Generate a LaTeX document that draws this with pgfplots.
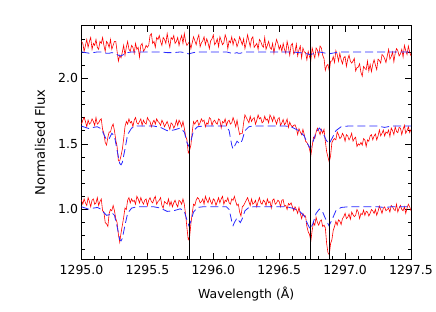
\documentclass[border=0pt]{standalone}
\usepackage{fontspec}
\setmainfont{DejaVu Sans}
\usepackage{pgfplots}
\usepackage{pgfplotstable}
\pgfplotsset{compat=1.18}

\definecolor{specred}{RGB}{255,0,0}
\definecolor{modblue}{RGB}{40,40,255}

% x = wavelength - 1295 (Angstrom); b, m, t = bottom, middle, top spectra
\pgfplotstableread{
x b m t
0.00 1.07 1.65 2.28
0.01 1.04 1.68 2.265
0.02 1.08 1.70 2.205
0.03 1.05 1.67 2.25
0.04 1.03 1.63 2.295
0.05 1.09 1.68 2.235
0.06 1.06 1.65 2.28
0.07 1.02 1.66 2.31
0.08 1.07 1.69 2.22
0.09 1.08 1.67 2.265
0.10 1.04 1.64 2.25
0.11 1.05 1.70 2.295
0.12 1.09 1.65 2.235
0.13 1.03 1.66 2.22
0.14 1.06 1.68 2.28
0.15 1.08 1.69 2.265
0.16 0.99 1.61 2.31
0.17 0.98 1.58 2.25
0.18 0.90 1.51 2.205
0.19 0.89 1.49 2.28
0.20 0.87 1.55 2.265
0.21 0.97 1.59 2.235
0.22 1.00 1.59 2.295
0.23 0.99 1.63 2.22
0.24 1.03 1.65 2.25
0.25 0.99 1.60 2.28
0.26 0.93 1.53 2.28
0.27 0.90 1.48 2.205
0.28 0.81 1.37 2.13
0.29 0.75 1.37 2.175
0.30 0.82 1.41 2.155
0.31 0.88 1.46 2.20
0.32 0.94 1.54 2.25
0.33 1.01 1.63 2.175
0.34 1.00 1.67 2.235
0.35 1.07 1.65 2.28
0.36 1.09 1.69 2.22
0.37 1.05 1.66 2.205
0.38 1.08 1.67 2.25
0.39 1.06 1.63 2.235
0.40 1.07 1.68 2.19
0.41 1.04 1.70 2.265
0.42 1.10 1.66 2.22
0.43 1.08 1.65 2.235
0.44 1.05 1.67 2.16
0.45 1.09 1.69 2.25
0.46 1.06 1.64 2.265
0.47 1.04 1.68 2.205
0.48 1.07 1.66 2.22
0.49 1.08 1.65 2.25
0.50 1.03 1.70 2.235
0.51 1.07 1.68 2.25
0.52 1.09 1.67 2.325
0.53 1.06 1.63 2.34
0.54 1.05 1.66 2.265
0.55 1.08 1.68 2.28
0.56 1.10 1.65 2.235
0.57 1.04 1.69 2.31
0.58 1.06 1.67 2.295
0.59 1.07 1.66 2.325
0.60 1.09 1.64 2.28
0.61 1.03 1.68 2.25
0.62 1.01 1.66 2.31
0.63 1.06 1.63 2.295
0.64 1.05 1.65 2.265
0.65 1.04 1.67 2.34
0.66 1.08 1.64 2.28
0.67 1.03 1.61 2.235
0.68 1.06 1.66 2.31
0.69 1.02 1.65 2.295
0.70 1.05 1.62 2.325
0.71 1.07 1.64 2.265
0.72 1.04 1.68 2.28
0.73 1.02 1.64 2.31
0.74 1.07 1.68 2.25
0.75 1.06 1.66 2.295
0.76 1.04 1.63 2.325
0.77 1.08 1.67 2.265
0.78 1.04 1.62 2.34
0.79 0.96 1.56 2.28
0.80 0.86 1.53 2.25
0.81 0.77 1.43 2.265
0.82 0.79 1.45 2.28
0.83 0.89 1.49 2.225
0.84 0.97 1.59 2.27
0.85 1.04 1.67 2.315
0.86 1.03 1.65 2.285
0.87 1.07 1.67 2.255
0.88 1.09 1.68 2.30
0.89 1.08 1.64 2.33
0.90 1.05 1.66 2.24
0.91 1.06 1.69 2.27
0.92 1.08 1.67 2.285
0.93 1.04 1.68 2.315
0.94 1.10 1.63 2.255
0.95 1.07 1.66 2.30
0.96 1.05 1.65 2.27
0.97 1.09 1.70 2.225
0.98 1.06 1.69 2.285
0.99 1.04 1.64 2.30
1.00 1.08 1.67 2.33
1.01 1.07 1.68 2.255
1.02 1.03 1.66 2.27
1.03 1.06 1.65 2.30
1.04 1.09 1.69 2.24
1.05 1.05 1.68 2.315
1.06 1.08 1.62 2.285
1.07 1.10 1.67 2.255
1.08 1.04 1.66 2.27
1.09 1.07 1.69 2.33
1.10 1.06 1.64 2.30
1.11 1.09 1.67 2.225
1.12 1.05 1.68 2.285
1.13 1.04 1.65 2.27
1.14 1.08 1.66 2.315
1.15 1.07 1.70 2.255
1.16 1.10 1.67 2.30
1.17 1.06 1.63 2.285
1.18 1.03 1.68 2.24
1.19 1.04 1.62 2.27
1.20 0.98 1.57 2.315
1.21 0.95 1.58 2.285
1.22 1.02 1.58 2.255
1.23 1.03 1.66 2.30
1.24 1.05 1.72 2.225
1.25 1.07 1.70 2.27
1.26 1.09 1.68 2.33
1.27 1.06 1.66 2.285
1.28 1.03 1.71 2.24
1.29 1.08 1.67 2.30
1.30 1.04 1.69 2.315
1.31 1.05 1.70 2.235
1.32 1.07 1.65 2.25
1.33 1.02 1.68 2.265
1.34 1.06 1.72 2.22
1.35 1.09 1.69 2.295
1.36 1.05 1.70 2.28
1.37 1.04 1.66 2.25
1.38 1.07 1.67 2.235
1.39 1.06 1.71 2.31
1.40 1.03 1.68 2.22
1.41 1.08 1.69 2.25
1.42 1.05 1.66 2.28
1.43 1.06 1.72 2.235
1.44 1.01 1.70 2.22
1.45 1.07 1.67 2.265
1.46 1.08 1.71 2.19
1.47 1.04 1.68 2.25
1.48 1.05 1.65 2.295
1.49 1.07 1.69 2.265
1.50 1.06 1.70 2.22
1.51 1.02 1.64 2.25
1.52 1.07 1.66 2.205
1.53 1.075 1.685 2.265
1.54 1.025 1.645 2.22
1.55 1.03 1.66 2.19
1.56 1.00 1.69 2.28
1.57 1.045 1.625 2.235
1.58 1.035 1.665 2.175
1.59 1.05 1.64 2.25
1.60 1.02 1.63 2.265
1.61 0.99 1.64 2.185
1.62 1.02 1.645 2.20
1.63 1.00 1.62 2.26
1.64 0.97 1.57 2.17
1.65 1.015 1.615 2.215
1.66 0.97 1.59 2.245
1.67 0.93 1.57 2.155
1.68 0.97 1.61 2.23
1.69 0.95 1.57 2.20
1.70 0.95 1.52 2.195
1.71 0.87 1.51 2.14
1.72 0.83 1.49 2.205
1.73 0.81 1.46 2.165
1.74 0.76 1.41 2.135
1.75 0.84 1.48 2.23
1.76 0.90 1.55 2.19
1.77 0.88 1.54 2.155
1.78 0.94 1.59 2.23
1.79 0.90 1.62 2.215
1.80 0.88 1.60 2.17
1.81 0.91 1.57 2.245
1.82 0.92 1.61 2.23
1.83 0.87 1.58 2.175
1.84 0.88 1.61 2.15
1.85 0.86 1.52 2.06
1.86 0.74 1.44 2.095
1.87 0.67 1.40 2.105
1.88 0.655 1.36 2.055
1.89 0.74 1.41 2.13
1.90 0.77 1.51 2.13
1.91 0.84 1.53 2.165
1.92 0.87 1.54 2.12
1.93 0.91 1.53 2.21
1.94 0.88 1.59 2.18
1.95 0.92 1.57 2.13
1.96 0.91 1.54 2.19
1.97 0.885 1.55 2.14
1.98 0.93 1.58 2.11
1.99 0.945 1.56 2.155
2.00 0.97 1.52 2.165
2.01 0.93 1.57 2.09
2.02 0.94 1.56 2.145
2.03 0.965 1.53 2.175
2.04 0.925 1.55 2.13
2.05 0.98 1.58 2.115
2.06 0.96 1.52 2.13
2.07 0.945 1.54 2.15
2.08 0.955 1.55 2.055
2.09 1.00 1.48 2.08
2.10 0.98 1.50 2.085
2.11 0.93 1.49 2.11
2.12 0.97 1.51 2.045
2.13 0.96 1.49 2.015
2.14 0.995 1.54 2.09
2.15 0.955 1.53 2.075
2.16 0.985 1.48 2.065
2.17 0.98 1.53 2.13
2.18 0.95 1.52 2.055
2.19 0.97 1.56 2.105
2.20 1.00 1.57 2.05
2.21 0.99 1.53 2.105
2.22 0.97 1.56 2.14
2.23 1.00 1.575 2.10
2.24 0.955 1.53 2.065
2.25 0.985 1.56 2.145
2.26 1.025 1.605 2.135
2.27 1.00 1.56 2.115
2.28 0.97 1.58 2.18
2.29 1.01 1.605 2.17
2.30 1.02 1.56 2.15
2.31 0.99 1.59 2.12
2.32 1.00 1.58 2.17
2.33 1.01 1.605 2.22
2.34 0.98 1.555 2.145
2.35 1.03 1.62 2.165
2.36 1.02 1.60 2.20
2.37 1.00 1.57 2.125
2.38 0.99 1.63 2.19
2.39 1.04 1.595 2.225
2.40 0.98 1.585 2.21
2.41 1.01 1.625 2.17
2.42 1.03 1.62 2.185
2.43 1.00 1.57 2.22
2.44 0.99 1.61 2.16
2.45 1.02 1.64 2.25
2.46 0.97 1.58 2.21
2.47 1.01 1.60 2.18
2.48 1.04 1.63 2.245
2.49 1.02 1.585 2.20
2.50 0.99 1.61 2.17
}\spectra

% model spectra, same layout
\pgfplotstableread{
x b m t
0.000 1.020 1.635 2.200
0.030 1.010 1.625 2.195
0.060 1.000 1.615 2.190
0.090 1.010 1.625 2.195
0.120 1.015 1.630 2.200
0.150 1.000 1.615 2.200
0.170 0.975 1.570 2.195
0.190 0.955 1.530 2.190
0.210 0.960 1.540 2.190
0.230 0.975 1.580 2.195
0.250 0.955 1.560 2.190
0.270 0.870 1.450 2.180
0.290 0.770 1.350 2.170
0.300 0.760 1.340 2.170
0.310 0.780 1.360 2.175
0.330 0.880 1.460 2.185
0.350 0.970 1.570 2.195
0.380 1.010 1.620 2.200
0.420 1.020 1.635 2.200
0.550 1.020 1.635 2.200
0.600 1.010 1.625 2.200
0.650 0.985 1.600 2.195
0.700 0.990 1.605 2.195
0.750 1.005 1.620 2.200
0.780 0.985 1.590 2.195
0.800 0.920 1.510 2.190
0.815 0.875 1.480 2.185
0.830 0.910 1.520 2.190
0.850 0.980 1.600 2.195
0.880 1.015 1.630 2.200
0.920 1.020 1.635 2.200
1.100 1.020 1.635 2.200
1.120 1.000 1.600 2.195
1.140 0.910 1.490 2.190
1.150 0.877 1.460 2.185
1.160 0.900 1.480 2.190
1.180 0.935 1.520 2.195
1.190 0.920 1.510 2.190
1.205 0.900 1.500 2.190
1.220 0.930 1.530 2.195
1.240 0.990 1.600 2.200
1.270 1.015 1.630 2.200
1.300 1.020 1.635 2.200
1.550 1.020 1.635 2.200
1.600 1.010 1.625 2.200
1.650 0.990 1.600 2.195
1.690 0.950 1.560 2.190
1.715 0.890 1.500 2.185
1.735 0.850 1.467 2.180
1.755 0.890 1.510 2.185
1.780 0.970 1.590 2.195
1.805 1.003 1.620 2.200
1.830 0.980 1.590 2.195
1.855 0.920 1.530 2.190
1.878 0.875 1.500 2.185
1.900 0.920 1.540 2.190
1.930 0.990 1.600 2.195
1.970 1.015 1.630 2.200
2.020 1.020 1.635 2.200
2.250 1.020 1.635 2.200
2.300 1.015 1.625 2.200
2.350 1.020 1.635 2.200
2.500 1.020 1.635 2.200
}\models

\begin{document}
\begin{tikzpicture}
\begin{axis}[
  scale only axis,
  width=329.5bp, height=233.6bp,
  at={(0,0)}, anchor=south west,
  xmin=0, xmax=2.5, ymin=0.62, ymax=2.4,
  xtick={0,0.5,1,1.5,2,2.5},
  xticklabels={1295.0,1295.5,1296.0,1296.5,1297.0,1297.5},
  minor xtick={0.1,0.2,0.3,0.4,0.6,0.7,0.8,0.9,1.1,1.2,1.3,1.4,1.6,1.7,1.8,1.9,2.1,2.2,2.3,2.4},
  ytick={1.0,1.5,2.0},
  yticklabels={1.0,1.5,2.0},
  minor ytick={0.7,0.8,0.9,1.1,1.2,1.3,1.4,1.6,1.7,1.8,1.9,2.1,2.2,2.3},
  tick align=inside,
  major tick length=6.5bp, minor tick length=3.5bp,
  every tick/.style={black, line width=0.6pt},
  axis line style={black, line width=0.7pt},
  tick label style={font=\fontsize{12.5}{15}\selectfont},
  label style={font=\fontsize{12.5}{15}\selectfont},
  xticklabel style={yshift=-2bp},
  xlabel={Wavelength (Å)},
  ylabel={Normalised Flux},
  xlabel style={at={(axis description cs:0.5,-0.149)}, anchor=center},
  ylabel style={at={(axis description cs:-0.126,0.5)}, anchor=center,
    font=\fontsize{13.2}{15}\selectfont},
  clip=true,
]
\addplot[specred, line width=0.6pt] table[x=x, y=b] {\spectra};
\addplot[specred, line width=0.6pt] table[x=x, y=m] {\spectra};
\addplot[specred, line width=0.6pt] table[x=x, y=t] {\spectra};
\addplot[modblue, line width=0.8pt, dash pattern=on 8bp off 4bp] table[x=x, y=b] {\models};
\addplot[modblue, line width=0.8pt, dash pattern=on 8bp off 4bp] table[x=x, y=m] {\models};
\addplot[modblue, line width=0.8pt, dash pattern=on 8bp off 4bp] table[x=x, y=t] {\models};
% line positions
\addplot[black, line width=0.7pt] coordinates {(0.818,0.62) (0.818,2.4)};
\addplot[black, line width=0.7pt] coordinates {(1.736,0.62) (1.736,2.4)};
\addplot[black, line width=0.7pt] coordinates {(1.878,0.62) (1.878,2.4)};
\end{axis}
\pgfresetboundingbox
\path (-81.5bp,-52.7bp) rectangle (354.5bp,259.3bp);
\end{tikzpicture}
\end{document}
